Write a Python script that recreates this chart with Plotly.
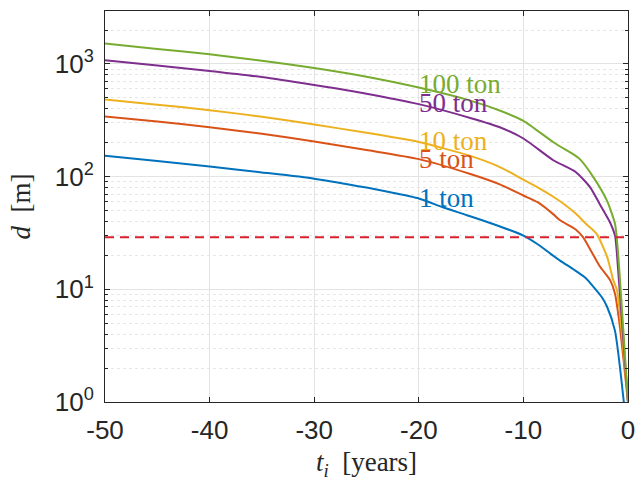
import math
import plotly.graph_objects as go

# ---- data ----
t_1 = [-50, -45, -40, -35, -30, -25, -22.5, -20, -17.7, -15.4, -12.9, -10, -8.6, -7.5, -6.5, -5.2, -4, -3.3, -2.5, -2, -1.25, -0.4]
d_1 = [153, 138, 123, 109, 96, 80, 72, 64, 53.5, 45.5, 38, 30, 25, 21, 18, 15, 12.5, 10.5, 8.5, 7, 4.3, 1.0]

t_5 = [-50, -45, -40, -35, -30, -25, -20, -15, -12.2, -10, -8.6, -7.1, -6.5, -5, -4.3, -3.6, -2.7, -1.7, -1.25, -0.85, 0]
d_5 = [342, 308, 275, 240, 205, 172, 143, 105, 85, 68, 59, 46, 41, 34, 29, 22.5, 16, 12, 9.2, 5.3, 1.0]

t_10 = [-50, -45, -40, -35, -30, -25, -20, -15, -12.2, -10, -8.6, -7.1, -6, -5, -4, -3, -2, -1.4, -1.05, 0]
d_10 = [483, 435, 389, 340, 290, 245, 203, 152, 121, 94, 80, 66, 56, 47, 38, 31, 19.5, 12, 9.8, 1.0]

t_50 = [-50, -45, -40, -35, -30, -25, -20, -15, -12.2, -10, -7.1, -5, -3.6, -2.7, -1.7, -1.24, -1.08, 0]
d_50 = [1080, 970, 867, 765, 650, 545, 440, 330, 273, 218, 139, 110, 80, 57, 39, 30, 22, 1.0]

t_100 = [-50, -45, -40, -35, -30, -25, -20, -15, -12.2, -10, -7.1, -5, -4.6, -3.3, -2.0, -1.24, -1.0, 0]
d_100 = [1520, 1360, 1218, 1070, 920, 770, 617, 470, 384, 313, 201, 153, 143, 98.6, 61, 38, 24, 1.0]

threshold = 29
series_names = ["1 ton", "5 ton", "10 ton", "50 ton", "100 ton"]
label_y = [65, 144, 208, 452, 665]
label_x = -20

colors = ["#0072BD", "#D95319", "#EDB120", "#7E2F8E", "#77AC30"]

x_ticks = [-50, -40, -30, -20, -10, 0]
y_ticks = [1, 10, 100, 1000]
y_ticktext = ["10<sup>0</sup>", "10<sup>1</sup>", "10<sup>2</sup>", "10<sup>3</sup>"]
y_minor = [m * 10 ** e for e in range(0, 4) for m in range(2, 10)]

ts = [t_1, t_5, t_10, t_50, t_100]
ds = [d_1, d_5, d_10, d_50, d_100]

fig = go.Figure()
for t, d, c, n in zip(ts, ds, colors, series_names):
    fig.add_trace(go.Scatter(x=t, y=d, mode="lines", line=dict(color=c, width=2, shape="spline", smoothing=0.6),
                             name=n, showlegend=False))

fig.add_trace(go.Scatter(x=[-50, 0], y=[threshold, threshold], mode="lines",
                         line=dict(color="#D9202C", width=2, dash="9px,6px"),
                         showlegend=False))

for n, c, ly in zip(series_names, colors, label_y):
    fig.add_annotation(x=label_x, y=math.log10(ly), yref="y", xref="x", text=n, showarrow=False,
                       xanchor="left", yanchor="middle", xshift=-2,
                       font=dict(family="Liberation Serif", size=27, color=c))

axis_line = "#262626"
fig.update_xaxes(range=[-50, 0], tickvals=x_ticks, ticktext=[str(v) for v in x_ticks],
                 showline=True, linecolor=axis_line, linewidth=1, mirror="allticks",
                 ticks="inside", ticklen=5, tickcolor=axis_line, ticklabelstandoff=5,
                 showgrid=True, gridcolor="#E3E3E3", gridwidth=1, zeroline=False, automargin=False,
                 tickfont=dict(family="Liberation Sans, Arial", size=26, color="#262626"),
                 title=dict(text="<i>t<sub>i</sub></i>  [years]", standoff=8,
                            font=dict(family="Liberation Serif", size=27, color="#262626")))
fig.update_yaxes(type="log", range=[0, 3.47], tickvals=y_ticks, ticktext=y_ticktext,
                 showline=True, linecolor=axis_line, linewidth=1, mirror="allticks",
                 ticks="inside", ticklen=5, tickcolor=axis_line, ticklabelstandoff=5,
                 showgrid=True, gridcolor="#E3E3E3", gridwidth=1, zeroline=False, automargin=False,
                 minor=dict(tickvals=y_minor, ticks="inside", ticklen=3, tickcolor=axis_line,
                            showgrid=True, gridcolor="#E6E6E6", griddash="dot", gridwidth=1),
                 tickfont=dict(family="Liberation Sans, Arial", size=26, color="#262626"),
                 title=dict(text="<i>d</i>  [m]", standoff=16,
                            font=dict(family="Liberation Serif", size=27, color="#262626")))

fig.update_layout(width=638, height=481, margin=dict(l=105, r=10, t=11, b=79, autoexpand=False),
                  plot_bgcolor="white", paper_bgcolor="white")

fig.write_html("out.html")
